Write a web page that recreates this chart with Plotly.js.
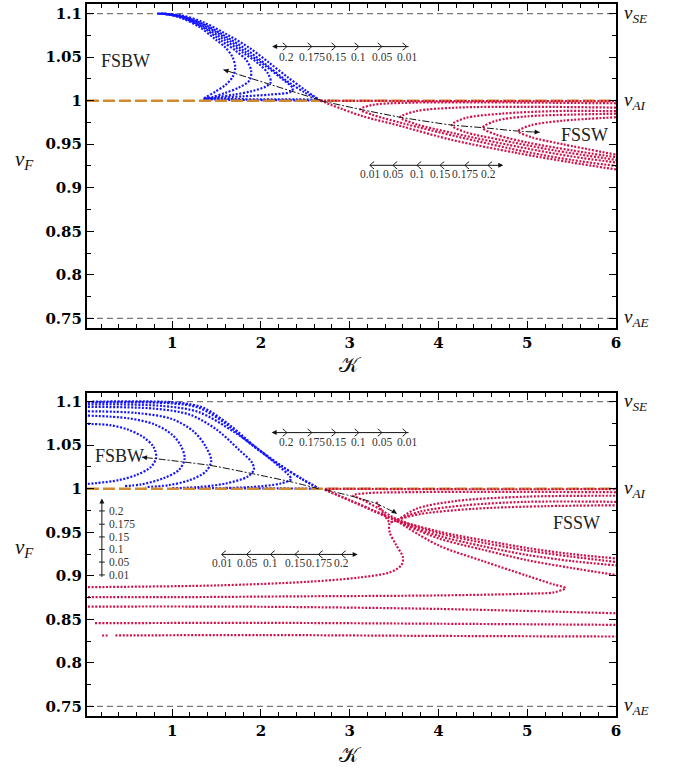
<!DOCTYPE html>
<html><head><meta charset="utf-8">
<script src="https://cdn.plot.ly/plotly-3.0.1.min.js"></script>
<style>html,body{margin:0;padding:0;background:#fff}#chart{width:680px;height:771px}</style>
</head><body><div id="chart"></div>
<script>
// reference velocities
const vSE = 1.1, vAI = 1.0, vAE = 0.75;
const xTick0 = 0, xDtick = 1, xMinorDtick = 0.2;
const yTick0 = 0, yDtick = 0.05, yMinorDtick = 0.025;
const pLabels = ['0.2','0.175','0.15','0.1','0.05','0.01'];
const pLabelsRev = ['0.01','0.05','0.1','0.15','0.175','0.2'];

// ---------- TOP PANEL: FSBW (blue) ----------
const tb0K = [0.83,1.1,1.35,1.6,1.88,2.1,2.3,2.5,2.67];
const tb0V = [1.1,1.098,1.09,1.077,1.06,1.043,1.027,1.012,1.0];
const tb1K = [0.85,1.1,1.35,1.6,1.86,2.1,2.3,2.5,2.63,2.4,2.0,1.6,1.36];
const tb1V = [1.1,1.097,1.088,1.074,1.057,1.038,1.022,1.009,1.002,1.0015,1.0015,1.002,1.0025];
const tb2K = [0.87,1.1,1.35,1.6,1.84,2.05,2.25,2.36,2.33,2.1,1.8,1.5,1.36];
const tb2V = [1.1,1.097,1.087,1.072,1.055,1.04,1.024,1.014,1.01,1.007,1.005,1.003,1.002];
const tb3K = [0.88,1.1,1.35,1.6,1.8,1.98,2.08,2.11,2.05,1.9,1.7,1.5,1.37];
const tb3V = [1.1,1.096,1.085,1.069,1.055,1.042,1.031,1.021,1.016,1.011,1.007,1.004,1.002];
const tb4K = [0.9,1.1,1.35,1.55,1.72,1.84,1.89,1.87,1.75,1.6,1.45,1.36];
const tb4V = [1.1,1.096,1.084,1.069,1.057,1.046,1.034,1.023,1.015,1.009,1.004,1.002];
const tb5K = [0.92,1.1,1.3,1.48,1.6,1.68,1.71,1.68,1.6,1.48,1.38,1.35];
const tb5V = [1.1,1.095,1.085,1.071,1.061,1.05,1.038,1.027,1.018,1.01,1.004,1.002];
const tbBaseK = [1.35,1.6,2.0,2.4,2.67];
const tbBaseV = [1.002,1.001,1.0007,1.0004,1.0];

// ---------- TOP PANEL: FSSW (red) ----------
const tr0K = [2.67,4,6];
const tr0V = [1.0,0.9995,0.9995];
const tr1K = [2.67,3.12,3.57,4.15,4.88,5.5,6];
const tr1V = [1.0,0.983,0.971,0.955,0.940,0.929,0.921];
const tr2K = [6,4.5,3.6,3.25,3.12,3.25,3.6,4.2,5,5.5,6];
const tr2V = [0.997,0.998,0.9975,0.995,0.990,0.984,0.974,0.959,0.941,0.932,0.925];
const tr3K = [6,5,4.2,3.75,3.57,3.75,4.2,5,5.5,6];
const tr3V = [0.992,0.993,0.992,0.988,0.981,0.973,0.962,0.945,0.936,0.929];
const tr4K = [6,5.3,4.7,4.3,4.15,4.3,4.7,5.3,6];
const tr4V = [0.988,0.988,0.985,0.980,0.972,0.964,0.955,0.943,0.932];
const tr5K = [6,5.5,5.0,4.65,4.5,4.65,5.0,5.5,6];
const tr5V = [0.985,0.984,0.982,0.977,0.969,0.961,0.952,0.943,0.935];
const tr6K = [6,5.4,5.05,4.9,5.05,5.4,6];
const tr6V = [0.981,0.977,0.972,0.965,0.958,0.950,0.938];

// ---------- BOTTOM PANEL: FSBW (blue) ----------
const bbAK = [0.05,0.3,0.5,0.68,0.79,0.82,0.76,0.6,0.4,0.05];
const bbAV = [1.0745,1.073,1.068,1.059,1.048,1.036,1.025,1.016,1.01,1.0055];
const bbBK = [0.05,0.5,0.8,1.0,1.1,1.14,1.08,0.9,0.65,0.45];
const bbBV = [1.084,1.081,1.074,1.062,1.049,1.035,1.022,1.012,1.005,1.003];
const bbCK = [0.05,0.6,1.0,1.25,1.38,1.44,1.38,1.2,0.95,0.7];
const bbCV = [1.089,1.087,1.08,1.065,1.048,1.032,1.02,1.01,1.004,1.002];
const bbDK = [0.05,0.8,1.2,1.5,1.75,1.9,1.92,1.85,1.6,1.3,1.1];
const bbDV = [1.094,1.092,1.085,1.068,1.045,1.03,1.022,1.014,1.006,1.002,1.001];
const bbEK = [0.05,0.9,1.3,1.7,2.0,2.2,2.31,2.34,2.22,1.9,1.6];
const bbEV = [1.097,1.095,1.088,1.065,1.043,1.026,1.016,1.011,1.006,1.002,1.001];
const bbFK = [0.05,1.0,1.3,1.6,1.9,2.2,2.45,2.65];
const bbFV = [1.099,1.098,1.093,1.075,1.05,1.028,1.012,1.0005];
const bbGK = [0.1,1.05,1.35,1.65,1.95,2.25,2.48,2.65];
const bbGV = [1.1,1.099,1.093,1.073,1.047,1.025,1.01,1.0005];
const bbBaseK = [1.0,1.6,2.2,2.65];
const bbBaseV = [1.0008,1.0006,1.0004,1.0];

// ---------- BOTTOM PANEL: FSSW (red) ----------
const br1K = [2.72,4,6];
const br1V = [1.0,0.9995,0.9995];
const br2K = [6,4.5,3.6,3.2,3.04,3.15,3.35,3.53,4,4.5,5,5.5,6];
const br2V = [0.996,0.9965,0.996,0.995,0.9925,0.987,0.976,0.965,0.951,0.941,0.932,0.925,0.92];
const br3K = [2.72,3.0,3.25,3.53,4,4.5,5,5.5,6];
const br3V = [0.999,0.987,0.976,0.964,0.949,0.938,0.929,0.922,0.916];
const br4K = [2.72,3.1,3.53,4,4.5,5,5.5,6];
const br4V = [0.999,0.982,0.963,0.946,0.934,0.924,0.917,0.912];
const br5K = [3.53,4,4.5,5,5.5,6];
const br5V = [0.963,0.943,0.930,0.918,0.909,0.901];
const br6K = [0.05,1.5,2.5,3.1,3.45,3.58,3.6,3.52,3.45,3.45,3.53,3.8,4.4,5.2,6];
const br6V = [0.887,0.889,0.893,0.898,0.904,0.912,0.921,0.936,0.95,0.96,0.964,0.971,0.977,0.98,0.981];
const br7K = [3.3,3.38,3.45,3.53,3.75,4.2,5,6];
const br7V = [0.985,0.972,0.962,0.964,0.977,0.986,0.991,0.992];
const br8K = [3.53,3.8,4.3,5,6];
const br8V = [0.964,0.974,0.981,0.985,0.985];
const br9K = [3.53,4.0,4.5,5.0,5.3,5.43,5.3,5.0,4,2.5,1,0.05];
const br9V = [0.963,0.935,0.917,0.900,0.890,0.886,0.881,0.8795,0.8775,0.8765,0.8755,0.8755];
const br10K = [0.05,2,4,6];
const br10V = [0.8647,0.8645,0.862,0.857];
const br11K = [0.13,2,4,6];
const br11V = [0.8456,0.846,0.845,0.8437];
const br12K = [0.36,2,4,6];
const br12V = [0.8315,0.832,0.831,0.8303];
const br13K = [0.21,0.28];
const br13V = [0.8315,0.8315];

// guide arrows through the fold points
const tArrBK = [2.67,1.578]; const tArrBV = [1.0005,1.0355];
const tArrSK = [2.67,3.12,3.57,4.15,4.5,4.9,5.14]; const tArrSV = [1.0,0.99,0.981,0.972,0.969,0.965,0.9637];
const bArrBK = [2.65,2.35,1.92,1.43,0.66]; const bArrBV = [1.0,1.0077,1.017,1.0268,1.0363];
const bArrSK = [2.72,3.04,3.3,3.53]; const bArrSV = [0.999,0.991,0.983,0.9715];

const BLUE = '#1414ff', RED = '#d3104a', ORANGE = '#d08a33';
function curve(K, V, color, xa, ya){
  return {x:K, y:V, xaxis:xa, yaxis:ya, mode:'lines', hoverinfo:'skip', showlegend:false,
    line:{color:color, width:2.2, dash:'2px,1.6px', shape:'spline', smoothing:0.9}};
}
function guide(K, V, xa, ya){
  return {x:K, y:V, xaxis:xa, yaxis:ya, mode:'lines', hoverinfo:'skip', showlegend:false,
    line:{color:'#111', width:1, dash:'7px,2px,2px,2px', shape:'spline', smoothing:0.6}};
}
function refLine(v, color, dash, w, xa, ya){
  return {x:[0.04,6], y:[v,v], xaxis:xa, yaxis:ya, mode:'lines', hoverinfo:'skip', showlegend:false,
    line:{color:color, width:w, dash:dash}};
}

const traces = [];
traces.push(refLine(vSE,'#777','6px,4px',1.3,'x','y'), refLine(vAE,'#777','6px,4px',1.3,'x','y'));
[[tb0K,tb0V],[tb1K,tb1V],[tb2K,tb2V],[tb3K,tb3V],[tb4K,tb4V],[tb5K,tb5V],[tbBaseK,tbBaseV]]
  .forEach(c=>traces.push(curve(c[0],c[1],BLUE,'x','y')));
traces.push(refLine(vAI,ORANGE,'12px,4px',2.4,'x','y'));
[[tr0K,tr0V],[tr1K,tr1V],[tr2K,tr2V],[tr3K,tr3V],[tr4K,tr4V],[tr5K,tr5V],[tr6K,tr6V]]
  .forEach(c=>traces.push(curve(c[0],c[1],RED,'x','y')));
traces.push(guide(tArrBK,tArrBV,'x','y'), guide(tArrSK,tArrSV,'x','y'));
traces.push(refLine(vSE,'#777','6px,4px',1.3,'x2','y2'), refLine(vAE,'#777','6px,4px',1.3,'x2','y2'));
[[bbAK,bbAV],[bbBK,bbBV],[bbCK,bbCV],[bbDK,bbDV],[bbEK,bbEV],[bbFK,bbFV],[bbGK,bbGV],[bbBaseK,bbBaseV]]
  .forEach(c=>traces.push(curve(c[0],c[1],BLUE,'x2','y2')));
traces.push(refLine(vAI,ORANGE,'12px,4px',2.4,'x2','y2'));
[[br1K,br1V],[br2K,br2V],[br3K,br3V],[br4K,br4V],[br5K,br5V],[br6K,br6V],[br7K,br7V],[br8K,br8V],
 [br9K,br9V],[br10K,br10V],[br11K,br11V],[br12K,br12V],[br13K,br13V]]
  .forEach(c=>traces.push(curve(c[0],c[1],RED,'x2','y2')));
traces.push(guide(bArrBK,bArrBV,'x2','y2'), guide(bArrSK,bArrSV,'x2','y2'));

// ---------- layout ----------
const tickFont = {family:'DejaVu Serif', size:15, color:'#000', weight:'bold'};
function xAxis(anchor){
  return {anchor:anchor, domain:[0.1279,0.9059], range:[0.04,6], tickmode:'linear', tick0:xTick0, dtick:xDtick,
    ticks:'inside', ticklen:7, tickwidth:1.4, tickcolor:'#000', mirror:'allticks', showline:true, linewidth:2,
    linecolor:'#000', showgrid:false, zeroline:false, tickfont:tickFont,
    minor:{tickmode:'linear', tick0:0, dtick:xMinorDtick, ticks:'inside', ticklen:4, tickwidth:1, tickcolor:'#000', showgrid:false}};
}
function yAxis(anchor, dom, rng){
  return {anchor:anchor, domain:dom, range:rng, tickmode:'linear', tick0:yTick0, dtick:yDtick,
    ticks:'inside', ticklen:7, tickwidth:1.4, tickcolor:'#000', mirror:'allticks', showline:true, linewidth:2,
    linecolor:'#000', showgrid:false, zeroline:false, tickfont:tickFont,
    minor:{tickmode:'linear', tick0:0, dtick:yMinorDtick, ticks:'inside', ticklen:4, tickwidth:1, tickcolor:'#000', showgrid:false}};
}

const ann = [], shapes = [];
const serif = 'Liberation Serif';
function txt(xref,yref,x,y,t,size,opts){
  ann.push(Object.assign({xref:xref,yref:yref,x:x,y:y,text:t,showarrow:false,xanchor:'center',yanchor:'middle',
    font:{family:serif,size:size,color:'#222'}},opts||{}));
}
function arrow(xref,yref,x,y,ax,ay,w){
  ann.push({xref:xref,yref:yref,axref:xref,ayref:yref,x:x,y:y,ax:ax,ay:ay,text:'',showarrow:true,
    arrowhead:2,arrowsize:1,arrowwidth:w||1,arrowcolor:'#111'});
}
function chevron(xref,yref,xc,yc,dir){
  const dx = 0.045*dir, dy = 0.0042;
  shapes.push({type:'path',xref:xref,yref:yref,
    path:`M ${xc-dx},${yc+dy} Q ${xc-dx*0.15},${yc+dy*0.4} ${xc},${yc} Q ${xc-dx*0.15},${yc-dy*0.4} ${xc-dx},${yc-dy}`,
    line:{color:'#222',width:1}});
}
function hLegend(xref,yref,xs,labs,y,ly,x0,x1,chevDir){
  arrow(xref,yref,x1,y,x0,y,1);
  xs.forEach((xc,i)=>{chevron(xref,yref,xc,y,chevDir); txt(xref,yref,xc,ly,labs[i],11.5,{font:{family:serif,size:11.5,color:'#333'}});});
}

const panels = [
  {xa:'x',ya:'y',xt:0.5266,yt:0.7925},
  {xa:'x2',ya:'y2',xt:0.0208,yt:0.2892}
];
panels.forEach(p=>{
  txt(p.xa+' domain',p.ya,1.012,vSE,'<i>v</i><sub><i>SE</i></sub>',19,{xanchor:'left',font:{family:serif,size:19,color:'#111'}});
  txt(p.xa+' domain',p.ya,1.012,vAI,'<i>v</i><sub><i>AI</i></sub>',19,{xanchor:'left',font:{family:serif,size:19,color:'#111'}});
  txt(p.xa+' domain',p.ya,1.012,vAE,'<i>v</i><sub><i>AE</i></sub>',19,{xanchor:'left',font:{family:serif,size:19,color:'#111'}});
  txt('paper','paper',24/680,p.yt,'<i>v</i><sub><i>F</i></sub>',21,{font:{family:serif,size:21,color:'#111'}});
  txt('paper','paper',350/680,p.xt,'𝒦',21,{font:{family:'DejaVu Sans, DejaVu Serif',size:21,color:'#111'}});
});

txt('x','y',0.47,1.045,'FSBW',18);
txt('x','y',5.65,0.961,'FSSW',18);
hLegend('x','y',[2.29,2.57,2.84,3.10,3.36,3.64],pLabels,1.0621,1.0506,3.68,2.126,1);
hLegend('x','y',[3.23,3.49,3.76,4.02,4.30,4.56],pLabelsRev,0.9258,0.916,3.21,4.73,-1);
arrow('x','y',1.578,1.0355,1.62,1.0342,1);
arrow('x','y',5.14,0.9637,5.05,0.9642,1);

txt('x2','y2',0.41,1.038,'FSBW',18);
txt('x2','y2',5.56,0.9604,'FSSW',18);
hLegend('x2','y2',[2.29,2.57,2.84,3.10,3.36,3.64],pLabels,1.0645,1.0542,3.68,2.12,1);
hLegend('x2','y2',[1.56,1.84,2.11,2.385,2.65,2.91],pLabelsRev,0.9246,0.915,1.54,3.09,-1);
arrow('x2','y2',0.66,1.0363,0.72,1.0356,1);
arrow('x2','y2',3.53,0.9715,3.47,0.9755,1);
arrow('x2','y2',0.208,0.9887,0.208,0.897,1);
[0.9745,0.9593,0.9447,0.9303,0.9158,0.901].forEach((yy,i)=>{
  shapes.push({type:'line',xref:'x2',yref:'y2',x0:0.175,x1:0.241,y0:yy,y1:yy,line:{color:'#222',width:1}});
  txt('x2','y2',0.26,yy,pLabels[i],11.5,{xanchor:'left',font:{family:serif,size:11.5,color:'#333'}});
});

const layout = {
  width:680, height:771, margin:{l:0,r:0,t:0,b:0}, paper_bgcolor:'#fff', plot_bgcolor:'#fff',
  showlegend:false,
  xaxis:xAxis('y'), yaxis:yAxis('x',[0.5746,0.9948],[0.739,1.111]),
  xaxis2:xAxis('y2'), yaxis2:yAxis('x2',[0.0713,0.4903],[0.739,1.110]),
  annotations:ann, shapes:shapes
};
Plotly.newPlot('chart', traces, layout, {displayModeBar:false});
</script></body></html>
